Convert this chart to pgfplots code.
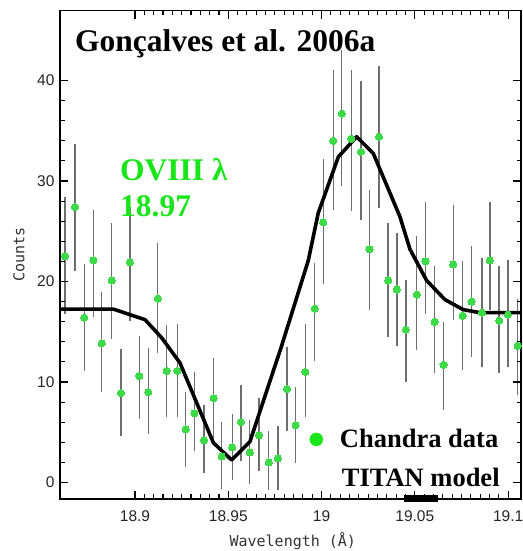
\documentclass[border=0pt]{standalone}
\usepackage{pgfplots}
\pgfplotsset{compat=1.18}
\usepackage{pgfplotstable}
\usepackage{fontspec}
\setmainfont{Liberation Serif}
\newfontfamily\tickfont{Liberation Sans}
\newfontfamily\labfont{DejaVu Sans Mono}
\definecolor{ptgreen}{RGB}{60,218,70}
\definecolor{txtgreen}{RGB}{25,230,25}
\definecolor{ebgray}{RGB}{110,110,110}

\pgfplotstableread{
x y ep em
18.8625 22.5 5.9 5.7
18.8678 27.4 6.3 6.4
18.8728 16.4 5.3 5.3
18.8777 22.1 5.0 5.6
18.8822 13.85 5.15 4.85
18.8875 20.1 5.7 5.8
18.8925 8.9 4.4 4.3
18.8973 21.9 5.5 5.8
18.9023 10.6 4.0 4.3
18.9071 9.0 4.4 4.2
18.9122 18.3 5.5 5.4
18.9170 11.1 4.6 4.6
18.9227 11.1 4.7 4.6
18.9272 5.3 3.7 3.8
18.9318 6.9 4.1 3.8
18.9370 4.2 3.5 3.3
18.9422 8.4 4.0 4.0
18.9465 2.6 3.4 3.2
18.9521 3.5 3.3 3.25
18.9568 6.0 3.7 3.9
18.9615 3.0 3.2 3.1
18.9665 4.7 3.7 3.6
18.9717 2.0 3.1 2.75
18.9766 2.4 3.2 3.15
18.9815 9.3 4.2 4.2
18.9861 5.7 3.8 3.8
18.9913 11.0 4.8 4.5
18.9963 17.3 4.5 5.2
19.0009 25.9 6.3 6.2
19.0063 34.0 7.0 6.9
19.0108 36.7 6.3 7.2
19.0159 34.2 6.8 7.2
19.0211 32.9 7.0 6.8
19.0257 23.2 5.9 6.0
19.0308 34.4 7.0 7.1
19.0357 20.1 5.7 5.6
19.0404 19.2 5.6 5.6
19.0452 15.2 4.9 5.2
19.0510 18.7 5.8 5.5
19.0557 22.0 5.9 5.2
19.0606 16.0 5.5 5.1
19.0654 11.7 4.3 4.5
19.0706 21.7 5.9 5.5
19.0756 16.6 5.4 5.4
19.0804 18.0 5.5 5.5
19.0860 16.9 5.4 5.4
19.0902 22.1 5.8 4.9
19.0952 16.1 5.4 5.2
19.0999 16.7 5.4 5.2
19.1051 13.6 4.7 4.9
}\datatable

\pgfplotstableread{
x y
18.8598 17.25
18.8884 17.25
18.9054 16.2
18.9143 14.4
18.9241 11.9
18.9420 3.96
18.9518 2.24
18.9616 4.06
18.9786 13.6
18.9929 22.1
18.9982 26.8
19.0090 32.4
19.0188 34.4
19.0277 32.75
19.0420 26.45
19.0474 23.2
19.0563 20.1
19.0661 18.2
19.0759 17.2
19.0848 16.9
19.1069 16.9
}\modeltable

\begin{document}
\begin{tikzpicture}
\begin{axis}[
  set layers,
  scale only axis,
  width=461bp, height=488.3bp,
  xmin=18.8598, xmax=19.1069,
  ymin=-1.64, ymax=46.94,
  clip=false,
  axis line style={line width=1.5bp},
  xtick={18.9,18.95,19,19.05,19.1},
  xticklabels={18.9,18.95,19,19.05,19.1},
  minor x tick num=9,
  ytick={0,10,20,30,40},
  minor y tick num=4,
  tick align=inside,
  major tick length=8bp,
  minor tick length=4.5bp,
  every tick/.style={black, line width=1.1bp},
  /pgf/number format/assume math mode=true,
  tick label style={font=\tickfont\fontsize{15.5bp}{16bp}\selectfont, text=black!85},
  xticklabel style={yshift=-8bp},
  yticklabel style={xshift=-2bp},
  xlabel={Wavelength (Å)},
  ylabel={Counts},
  label style={font=\labfont\fontsize{15bp}{16bp}\selectfont, text=black!80},
  xlabel style={at={(axis description cs:0.505,-0.086)}, anchor=center},
  ylabel style={at={(axis description cs:-0.0889,0.5)}, anchor=center},
  legend image code/.code={\fill[txtgreen] (0bp,0bp) circle (6.5bp);},
  legend style={at={(axis description cs:0.541,0.122)}, anchor=west, draw=none, fill=none,
    inner sep=0pt, font=\bfseries\fontsize{26.5bp}{30bp}\selectfont,
    /tikz/every odd column/.append style={column sep=15bp}},
]
% error bars beneath everything
\addplot[forget plot, on layer=axis background, only marks, mark=none, draw=none,
  error bars/.cd, y dir=both, y explicit, error mark=none,
  error bar style={ebgray, line width=1.4bp}]
  table[x=x, y=y, y error plus=ep, y error minus=em] {\datatable};
% data points
\addplot[forget plot, only marks, mark=*, mark size=3.6bp,
  mark options={draw=ptgreen, fill=ptgreen, line width=0pt}]
  table[x=x, y=y] {\datatable};
% model
\addplot[forget plot, black, line width=3.6bp, line join=round] table[x=x, y=y] {\modeltable};
\addlegendimage{only marks, mark=*, mark options={fill=txtgreen, draw=none}}
\addlegendentry{Chandra data}
\draw[black, line width=7bp] (axis cs:19.0442,-1.6) -- (axis cs:19.0624,-1.6);
\node[anchor=base west, inner sep=0pt, font=\bfseries\fontsize{31.5bp}{36bp}\selectfont]
  at (axis description cs:0.0325,0.916) {Gonçalves et al. 2006a};
\node[anchor=base west, inner sep=0pt, text=txtgreen, font=\bfseries\fontsize{31.5bp}{36bp}\selectfont]
  at (axis description cs:0.130,0.653) {OVIII λ};
\node[anchor=base west, inner sep=0pt, text=txtgreen, font=\bfseries\fontsize{31.5bp}{36bp}\selectfont]
  at (axis description cs:0.130,0.578) {18.97};
\node[anchor=base west, inner sep=0pt, font=\bfseries\fontsize{26.5bp}{30bp}\selectfont]
  at (axis description cs:0.611,0.0252) {TITAN model};
\end{axis}
\pgfresetboundingbox
\useasboundingbox (-60bp,-52bp) rectangle (463bp,499bp);
\end{tikzpicture}
\end{document}
